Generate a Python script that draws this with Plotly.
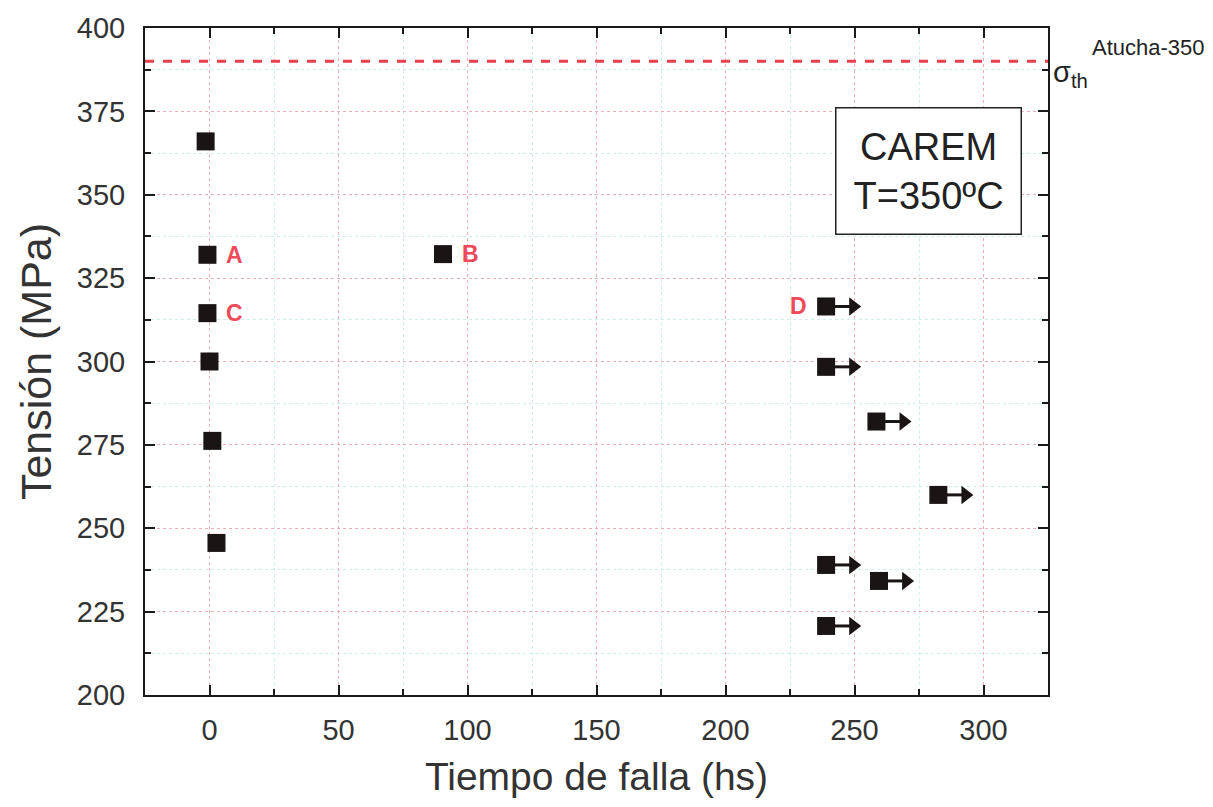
import plotly.graph_objects as go

# Data
fail_time = [-1.5, -0.8, -0.8, 0.0, 1.1, 2.7, 90.5]
fail_stress = [366, 332, 314.5, 300, 276.2, 245.6, 332.2]

runout_time = [239, 239, 258.5, 282.5, 239, 259.5, 239]
runout_stress = [316.5, 298.4, 282, 260, 239, 234.2, 220.7]

labels = ["A", "B", "C", "D"]
label_x = [-0.8, 90.5, -0.8, 239]
label_y = [332, 332.2, 314.5, 316.5]

sigma_th = 390

# styling constants
ARROW_LEN = 10.5
LABEL_DX = [6.5, 6.5, 6.5, -6.5]
FONT = "Liberation Sans, Arial"
INK = "#1a1414"

fig = go.Figure()

# runout arrows (shaft + head)
shaft_x, shaft_y = [], []
for xv, yv in zip(runout_time, runout_stress):
    shaft_x += [xv, xv + ARROW_LEN, None]
    shaft_y += [yv, yv, None]
fig.add_trace(go.Scatter(x=shaft_x, y=shaft_y, mode="lines",
                         line=dict(color=INK, width=3), showlegend=False, hoverinfo="skip"))
fig.add_trace(go.Scatter(x=[xv + ARROW_LEN for xv in runout_time], y=runout_stress,
                         mode="markers",
                         marker=dict(symbol="triangle-right", size=16, color=INK),
                         showlegend=False, hoverinfo="skip"))

fig.add_trace(go.Scatter(x=fail_time, y=fail_stress, mode="markers",
                         marker=dict(symbol="square", size=18, color=INK),
                         showlegend=False))
fig.add_trace(go.Scatter(x=runout_time, y=runout_stress, mode="markers",
                         marker=dict(symbol="square", size=18, color=INK),
                         showlegend=False))

# threshold line
fig.add_trace(go.Scatter(x=[-25, 325], y=[sigma_th, sigma_th], mode="lines",
                         line=dict(color="#e8404e", width=3, dash="dash"),
                         showlegend=False, hoverinfo="skip"))

# point labels
for t, xv, yv, dx in zip(labels, label_x, label_y, LABEL_DX):
    fig.add_annotation(x=xv + dx, y=yv, xref="x", yref="y", text="<b>%s</b>" % t,
                       showarrow=False, font=dict(size=23, color="#ee4a5a", family=FONT),
                       xanchor="left" if dx > 0 else "right")

# info box
fig.add_annotation(x=0.971, y=0.882, xref="paper", yref="paper",
                   text="CAREM<br>T=350ºC", showarrow=False,
                   xanchor="right", yanchor="top", align="center",
                   font=dict(size=38, color="#222", family=FONT),
                   bordercolor="#222", borderwidth=1.5, borderpad=17,
                   bgcolor="white")

# sigma_th label
fig.add_annotation(x=1.003, y=386.2, xref="paper", yref="y",
                   text="σ<sub>th</sub>", showarrow=False, xanchor="left",
                   font=dict(size=29, color="#222", family=FONT))
fig.add_annotation(x=1.047, y=394.2, xref="paper", yref="y",
                   text="Atucha-350", showarrow=False, xanchor="left",
                   font=dict(size=22, color="#222", family=FONT))

axis_common = dict(showline=True, linecolor="#1a1a1a", linewidth=2, mirror="ticks",
                   ticks="inside", ticklen=10, tickwidth=2, tickcolor="#1a1a1a",
                   showgrid=True, gridcolor="#eab0b6", griddash="dot", gridwidth=1,
                   zeroline=False,
                   title_font=dict(color="#333", family=FONT))

fig.update_xaxes(range=[-25, 325], tickvals=[0, 50, 100, 150, 200, 250, 300],
                 ticklabelstandoff=8,
                 tickfont=dict(size=29, color="#333", family=FONT),
                 title_text="Tiempo de falla (hs)", title_standoff=18,
                 minor=dict(tickvals=[25, 75, 125, 175, 225, 275], ticks="inside", ticklen=6,
                            tickwidth=2, tickcolor="#1a1a1a", showgrid=True,
                            gridcolor="#cdeeed", gridwidth=1),
                 **axis_common)
fig.update_yaxes(range=[200, 400], tickvals=[200, 225, 250, 275, 300, 325, 350, 375, 400],
                 ticklabelstandoff=12,
                 tickfont=dict(size=29, color="#333", family=FONT),
                 title_text="Tensión (MPa)", title_standoff=12,
                 minor=dict(tickvals=[212.5, 237.5, 262.5, 287.5, 312.5, 337.5, 362.5, 387.5],
                            ticks="inside", ticklen=6, tickwidth=2, tickcolor="#1a1a1a",
                            showgrid=True, gridcolor="#cdeeed", gridwidth=1),
                 **axis_common)
fig.update_xaxes(title_font_size=39)
fig.update_yaxes(title_font_size=43)

fig.update_layout(width=1213, height=807, margin=dict(l=145, r=165, t=28, b=112),
                  plot_bgcolor="white", paper_bgcolor="white")

fig.write_html("out.html")
